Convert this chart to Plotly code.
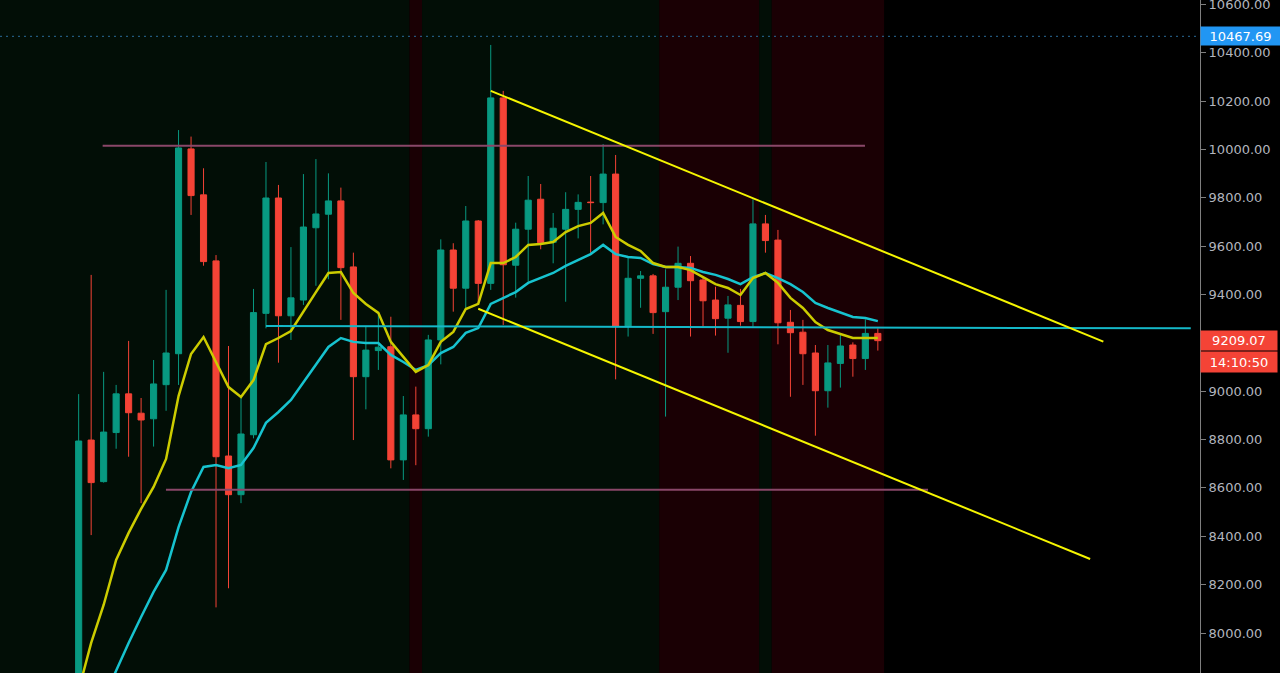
import plotly.graph_objects as go

BG = "#000000"
ZONE_COLORS = {"g": "#020e06", "r": "#1a0004"}
UP = "#089981"
DOWN = "#f44336"
AXIS = "#7f7f7f"
TEXT = "#b2b5be"
FONT = "DejaVu Sans"

# candle data, one per session (index 0 .. 64)
opens = [7760, 8798, 8626, 8829, 8989, 8909, 8886, 9027, 9155, 10002,
         9812, 9539, 8732, 8572, 8820, 9322, 9799, 9312, 9377, 9676,
         9732, 9787, 9514, 9060, 9168, 9184, 8716, 8902, 8845, 9212,
         9584, 9426, 9704, 9446, 10213, 9521, 9670, 9794, 9616, 9670,
         9752, 9782, 9780, 9898, 9270, 9467, 9477, 9329, 9430, 9529,
         9460, 9377, 9302, 9355, 9288, 9692, 9625, 9285, 9244, 9158,
         9002, 9115, 9191, 9135, 9239]
highs = [8988, 9481, 9080, 9026, 9208, 8972, 9129, 9419, 10080, 10053,
         9922, 9563, 9187, 8977, 9423, 9948, 9853, 9596, 9898, 9960,
         9901, 9842, 9573, 9267, 9318, 9308, 8980, 9019, 9233, 9628,
         9612, 9766, 9708, 10432, 10242, 9697, 9890, 9857, 9737, 9823,
         9814, 9890, 10022, 9977, 9556, 9497, 9485, 9504, 9598, 9559,
         9476, 9432, 9394, 9423, 9794, 9729, 9667, 9336, 9295, 9191,
         9191, 9235, 9202, 9297, 9260]
lows = [7700, 8405, 8622, 8762, 8729, 8537, 8771, 8919, 9026, 9729,
        9519, 8106, 8185, 8537, 8805, 9260, 9118, 9212, 9357, 9436,
        9463, 9295, 8798, 8925, 9088, 8681, 8633, 8694, 8812, 9111,
        9329, 9343, 9364, 9419, 9274, 9387, 9453, 9587, 9529, 9370,
        9632, 9573, 9690, 9049, 9226, 9345, 9237, 8895, 9377, 9226,
        9267, 9230, 9159, 9271, 9267, 9573, 9194, 8977, 9026, 8816,
        8932, 9015, 9060, 9088, 9168]
closes = [8794, 8622, 8831, 8989, 8911, 8881, 9030, 9158, 10006, 9809,
          9536, 8729, 8572, 8823, 9325, 9799, 9312, 9386, 9679, 9733,
          9787, 9511, 9060, 9170, 9182, 8716, 8902, 8845, 9212, 9584,
          9426, 9704, 9446, 10213, 9523, 9670, 9790, 9614, 9674, 9752,
          9781, 9780, 9898, 9267, 9467, 9477, 9325, 9430, 9529, 9457,
          9374, 9300, 9357, 9288, 9692, 9623, 9283, 9242, 9155, 9002,
          9117, 9187, 9135, 9239, 9209.07]

# moving averages
ma_fast = [7764, 7959, 8116, 8302, 8414, 8513, 8604, 8720, 8980, 9154,
           9224, 9121, 9017, 8976, 9046, 9195, 9220, 9249, 9332, 9410,
           9489, 9493, 9406, 9361, 9324, 9204, 9142, 9080, 9108, 9204,
           9245, 9340, 9361, 9530, 9530, 9555, 9605, 9609, 9617, 9658,
           9683, 9696, 9737, 9638, 9605, 9580, 9530, 9514, 9514, 9501,
           9472, 9443, 9427, 9398, 9468, 9489, 9448, 9386, 9344, 9286,
           9253, 9237, 9220, 9220, 9220]
ma_slow = [7500, 7616, 7731, 7847, 7959, 8066, 8170, 8261, 8438, 8583,
           8687, 8695, 8682, 8695, 8765, 8869, 8914, 8964, 9038, 9113,
           9183, 9220, 9204, 9199, 9199, 9150, 9121, 9088, 9108, 9158,
           9183, 9241, 9261, 9361, 9386, 9410, 9448, 9468, 9489, 9518,
           9543, 9567, 9605, 9567, 9555, 9551, 9526, 9514, 9514, 9510,
           9493, 9481, 9464, 9443, 9472, 9489, 9468, 9443, 9410, 9365,
           9344, 9324, 9307, 9303, 9290]

# session background per candle: g = green, r = red
session = list("ggggggggggggggggggggggggggg" "r" "ggggggggggggggggggg"
               "rrrrrrrr" "g" "rrrrrrrrr")

# drawn objects (candle index, price)
upper_x = [33, 82.06]
upper_y = [10242, 9205]
lower_x = [32, 81.0]
lower_y = [9341, 8306]
support_x = [15, 89.06]
support_y = [9270, 9260]
range_hi_x = [1.92, 62.97]
range_hi_y = [10015, 10015]
range_lo_x = [6.99, 68.02]
range_lo_y = [8592, 8592]

# price scale labels (9200 sits under the last-price tag)
price_ticks = [8000, 8200, 8400, 8600, 8800, 9000, 9400, 9600, 9800,
               10000, 10200, 10400, 10600]

high_mark = 10467.69
last_price = closes[-1]
countdown = "14:10:50"

X_RANGE = [-6.30, 89.80]
Y_RANGE = [7834.6, 10617.9]

idx = list(range(len(opens)))

fig = go.Figure()

# session shading
shapes = []
start = 0
for i in range(1, len(session) + 1):
    if i == len(session) or session[i] != session[start]:
        x0 = X_RANGE[0] if start == 0 else start - 0.5
        shapes.append(dict(type="rect", xref="x", yref="paper", x0=x0, x1=i - 0.5,
                           y0=0, y1=1, fillcolor=ZONE_COLORS[session[start]],
                           line_width=0, layer="below"))
        start = i
shapes.append(dict(type="line", xref="paper", yref="y", x0=0, x1=1,
                   y0=high_mark, y1=high_mark,
                   line=dict(color="#2a6b99", width=1, dash="2px,4px")))

fig.add_trace(go.Candlestick(
    x=idx, open=opens, high=highs, low=lows, close=closes,
    increasing=dict(line=dict(color=UP, width=1), fillcolor=UP),
    decreasing=dict(line=dict(color=DOWN, width=1), fillcolor=DOWN),
    whiskerwidth=0, hoverinfo="skip",
))

fig.add_trace(go.Scatter(x=idx, y=ma_slow, mode="lines", line=dict(color="#17c3cf", width=2.5), hoverinfo="skip"))
fig.add_trace(go.Scatter(x=idx, y=ma_fast, mode="lines", line=dict(color="#cccc00", width=2.5), hoverinfo="skip"))

for xs, ys, col in [
    (range_hi_x, range_hi_y, "#8a4769"),
    (range_lo_x, range_lo_y, "#8a4769"),
    (support_x, support_y, "#14b8c8"),
    (upper_x, upper_y, "#f5f500"),
    (lower_x, lower_y, "#f5f500"),
]:
    fig.add_trace(go.Scatter(x=xs, y=ys, mode="lines", line=dict(color=col, width=2), hoverinfo="skip"))

annotations = [
    dict(text=f"{high_mark:.2f}", x=1, xref="paper", xanchor="left", y=high_mark, yref="y",
         yanchor="middle", showarrow=False, bgcolor="#2196f3", width=75, height=14, borderpad=2,
         font=dict(family=FONT, size=13, color="#ffffff")),
    dict(text=f"{last_price:.2f}", x=1, xref="paper", xanchor="left", y=last_price, yref="y",
         yanchor="middle", showarrow=False, bgcolor=DOWN, width=72, height=15, borderpad=2,
         font=dict(family=FONT, size=13, color="#ffffff")),
    dict(text=countdown, x=1, xref="paper", xanchor="left", y=last_price, yref="y", yshift=-21,
         yanchor="middle", showarrow=False, bgcolor=DOWN, width=72, height=16, borderpad=2,
         font=dict(family=FONT, size=13, color="#ffffff")),
]

fig.update_layout(
    width=1280, height=673,
    paper_bgcolor=BG, plot_bgcolor=BG,
    margin=dict(l=0, r=80, t=0, b=0),
    showlegend=False,
    shapes=shapes,
    annotations=annotations,
    xaxis=dict(range=X_RANGE, visible=False, rangeslider=dict(visible=False), fixedrange=True),
    yaxis=dict(
        side="right", range=Y_RANGE, tickvals=price_ticks, tickformat=".2f",
        ticks="outside", ticklen=5, tickcolor=AXIS, showline=True, linecolor=AXIS, linewidth=1,
        showgrid=False, zeroline=False, fixedrange=True, ticklabeloverflow="allow",
        automargin=False, tickfont=dict(family=FONT, size=13, color=TEXT),
    ),
)

fig.write_html("out.html", config={"displayModeBar": False},
               post_script="document.body.style.margin='0';document.body.style.overflow='hidden';")
